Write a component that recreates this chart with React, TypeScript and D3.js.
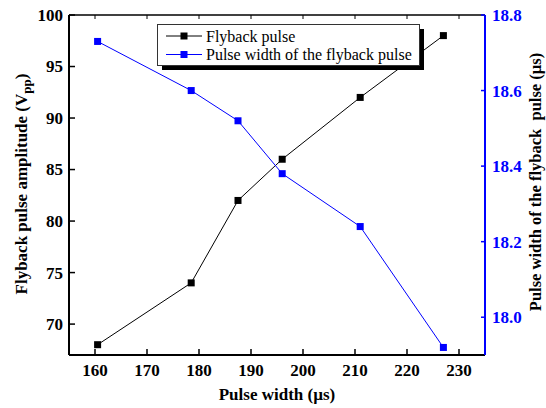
import React from "react";
import * as d3 from "d3";

const pulseWidths = [160.5, 178.5, 187.5, 196, 211, 227];
const amplitude = [68, 74, 82, 86, 92, 98];
const flybackWidth = [18.73, 18.6, 18.52, 18.38, 18.24, 17.92];
const xTicks = [160, 170, 180, 190, 200, 210, 220, 230];
const yLeftTicks = [70, 75, 80, 85, 90, 95, 100];
const yRightTicks = [18.0, 18.2, 18.4, 18.6, 18.8];
const legendLabels = ["Flyback pulse", "Pulse width of the flyback pulse"];

const W = 546, H = 408;
const L = 69, R = 485, T = 15, B = 355;
const FONT = "'Liberation Serif', 'Times New Roman', serif";
const BLUE = "#0000ff";

export default function App() {
  const x = d3.scaleLinear().domain([155, 235]).range([L, R]);
  const yL = d3.scaleLinear().domain([67, 100]).range([B, T]);
  const yR = d3.scaleLinear().domain([17.9, 18.8]).range([B, T]);

  const lineL = d3.line<number>().x((_, i) => x(pulseWidths[i])).y((d) => yL(d));
  const lineR = d3.line<number>().x((_, i) => x(pulseWidths[i])).y((d) => yR(d));

  const ms = 7;
  return (
    <svg width={W} height={H} style={{ position: "absolute", left: 0, top: 0 }} fontFamily={FONT}>
      <rect x={0} y={0} width={W} height={H} fill="#fff" />
      {/* data */}
      <path d={lineL(amplitude) || ""} fill="none" stroke="#000" strokeWidth={1} />
      <path d={lineR(flybackWidth) || ""} fill="none" stroke={BLUE} strokeWidth={1} />
      {amplitude.map((v, i) => (
        <rect key={"a" + i} x={x(pulseWidths[i]) - ms / 2} y={yL(v) - ms / 2} width={ms} height={ms} fill="#000" />
      ))}
      {flybackWidth.map((v, i) => (
        <rect key={"b" + i} x={x(pulseWidths[i]) - ms / 2} y={yR(v) - ms / 2} width={ms} height={ms} fill={BLUE} />
      ))}

      {/* frame */}
      <line x1={L} y1={T} x2={R} y2={T} stroke="#000" strokeWidth={1.5} />
      <line x1={L} y1={B} x2={R} y2={B} stroke="#000" strokeWidth={2} />
      <line x1={L} y1={T} x2={L} y2={B} stroke="#000" strokeWidth={2} />
      <line x1={R} y1={T} x2={R} y2={B} stroke={BLUE} strokeWidth={2} />

      {/* x ticks */}
      {xTicks.map((t) => (
        <g key={"x" + t}>
          <line x1={x(t)} x2={x(t)} y1={B} y2={B - 6} stroke="#000" strokeWidth={1.5} />
          <line x1={x(t)} x2={x(t)} y1={T} y2={T + 4} stroke="#000" strokeWidth={1} />
          <text x={x(t)} y={376} textAnchor="middle" fontSize={17} fontWeight="bold" fill="#000">
            {t}
          </text>
        </g>
      ))}
      {/* left ticks */}
      {yLeftTicks.map((t) => (
        <g key={"l" + t}>
          <line x1={L} x2={L + 6} y1={yL(t)} y2={yL(t)} stroke="#000" strokeWidth={1.5} />
          <text x={63} y={yL(t)} dy="0.35em" textAnchor="end" fontSize={17} fontWeight="bold" fill="#000">
            {t}
          </text>
        </g>
      ))}
      {/* right ticks */}
      {yRightTicks.map((t) => (
        <g key={"r" + t}>
          <line x1={R} x2={R - 4} y1={yR(t)} y2={yR(t)} stroke={BLUE} strokeWidth={1.5} />
          <text x={492} y={yR(t)} dy="0.35em" textAnchor="start" fontSize={17} fontWeight="bold" fill={BLUE}>
            {t.toFixed(1)}
          </text>
        </g>
      ))}

      {/* axis titles */}
      <text x={(L + R) / 2} y={400} textAnchor="middle" fontSize={17} fontWeight="bold" fill="#000">
        Pulse width (µs)
      </text>
      <text transform="translate(27,184) rotate(-90)" textAnchor="middle" fontSize={17} fontWeight="bold" fill="#000">
        Flyback pulse amplitude (V<tspan dy="4" fontSize={13}>pp</tspan><tspan dy="-4">)</tspan>
      </text>
      <text transform="translate(541,182) rotate(-90)" textAnchor="middle" fontSize={16.5} fontWeight="bold" fill="#000" style={{ whiteSpace: "pre" }}>
        {"Pulse width of the flyback  pulse (µs)"}
      </text>

      {/* legend */}
      <rect x={162} y={29} width={262} height={41} fill="#000" />
      <rect x={157.5} y={24.5} width={262} height={41} fill="#fff" stroke="#333" strokeWidth={1} />
      {legendLabels.map((lab, i) => {
        const yy = 36 + i * 18.5;
        const c = i === 0 ? "#000" : BLUE;
        return (
          <g key={lab}>
            <line x1={166} x2={202} y1={yy} y2={yy} stroke={c} strokeWidth={1} />
            <rect x={184 - ms / 2} y={yy - ms / 2} width={ms} height={ms} fill={c} />
            <text x={206} y={yy} dy="0.35em" fontSize={16} fill="#000">
              {lab}
            </text>
          </g>
        );
      })}
    </svg>
  );
}
